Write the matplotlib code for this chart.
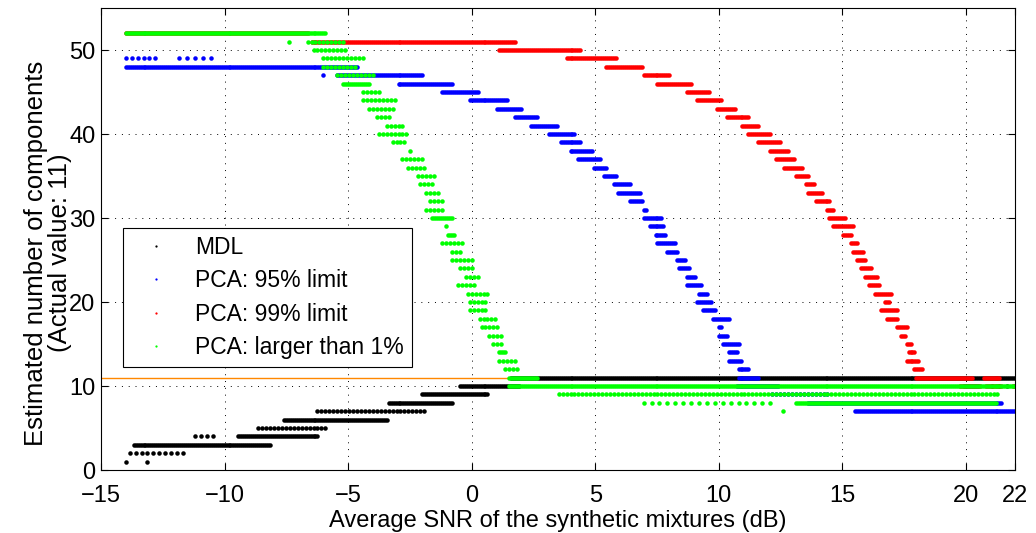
import numpy as np
import matplotlib
matplotlib.use("Agg")
from matplotlib import pyplot as plt

plt.rcParams['font.family'] = ['Liberation Sans', 'DejaVu Sans']

# SNR grid of the synthetic mixtures (dB)
snr = np.round(np.arange(-14.0, 22.001, 0.08), 3)

# runs: (estimated components, SNR from, SNR to[, keep every n-th])
mdl = [
    (1, -14.0, -14.0), (1, -13.15, -13.15),
    (2, -13.9, -11.6, 3), (3, -13.7, -8.1),
    (4, -11.25, -10.4, 3), (4, -9.5, -6.2),
    (5, -8.7, -5.9, 2), (6, -7.6, -3.4), (7, -6.3, -1.8, 2),
    (8, -3.4, -0.8), (9, -2.0, 0.65), (10, -0.5, 1.95),
    (11, 1.6, 22.0), (10, 21.0, 22.0, 4),
]
pca95 = [
    (49, -14.1, -12.6, 3), (49, -11.9, -10.5, 4), (48, -14.0, -4.6),
    (47, -6.0, -6.0), (47, -5.5, -2.0), (46, -3.0, -0.8), (45, -1.2, 0.3),
    (44, -0.1, 1.45), (43, 1.0, 2.0), (42, 1.75, 2.7), (41, 2.35, 3.5),
    (40, 3.1, 4.2), (39, 3.55, 4.4), (38, 4.0, 4.9), (37, 4.3, 5.2),
    (36, 4.9, 5.5), (35, 5.3, 5.85), (34, 5.7, 6.4), (33, 5.9, 6.8),
    (32, 6.4, 6.9), (31, 6.9, 7.1), (30, 6.9, 7.7), (29, 7.2, 7.8),
    (28, 7.4, 7.9), (27, 7.5, 8.3), (26, 7.9, 8.35), (25, 8.3, 8.65),
    (24, 8.4, 8.85), (23, 8.7, 9.1), (22, 8.7, 9.35), (21, 9.15, 9.55),
    (20, 9.05, 9.75), (19, 9.3, 9.85), (18, 9.7, 10.45), (17, 10.0, 10.1),
    (16, 9.95, 10.35), (15, 10.1, 10.8), (14, 10.35, 10.75), (13, 10.4, 10.95),
    (12, 10.8, 11.2), (11, 10.75, 11.6), (10, 10.7, 12.4), (10, 19.9, 20.5),
    (9, 12.1, 14.5, 2), (8, 13.6, 21.5), (7, 15.5, 22.0),
]
pca99 = [
    (52, -14.0, -6.6), (51, -6.5, 1.8), (50, 1.1, 4.4), (49, 3.8, 5.9),
    (48, 5.4, 6.9), (47, 6.9, 8.0), (46, 7.45, 8.9), (45, 8.65, 9.6),
    (44, 9.05, 10.1), (43, 9.9, 10.7), (42, 10.3, 11.25), (41, 10.9, 11.6),
    (40, 11.2, 12.1), (39, 11.6, 12.55), (38, 12.05, 12.85), (37, 12.3, 13.1),
    (36, 12.6, 13.4), (35, 13.1, 13.6), (34, 13.45, 13.9), (33, 13.6, 14.2),
    (32, 13.85, 14.5), (31, 14.35, 14.65), (30, 14.45, 15.15), (29, 14.6, 15.5),
    (28, 15.0, 15.4), (27, 15.3, 15.6), (26, 15.4, 15.9), (25, 15.6, 15.95),
    (24, 15.7, 16.2), (23, 15.85, 16.4), (22, 16.05, 16.55), (21, 16.25, 17.0),
    (20, 16.65, 16.9), (19, 16.5, 17.2), (18, 16.8, 17.2), (17, 17.2, 17.6),
    (16, 17.35, 17.55), (15, 17.55, 17.8), (14, 17.65, 17.95), (13, 17.55, 18.1),
    (12, 17.85, 18.3), (11, 18.0, 20.3), (11, 20.7, 21.4),
    (10, 19.7, 20.6), (10, 20.8, 21.5), (10, 21.9, 22.0),
]
pca1 = [
    (52, -14.1, -5.9), (51, -7.4, -7.4), (51, -6.7, -5.2, 2), (50, -6.4, -5.0, 2),
    (49, -6.0, -4.4, 2), (48, -6.0, -4.7, 2), (47, -5.5, -3.9, 2), (46, -5.2, -4.1),
    (45, -4.4, -3.7, 2), (44, -4.4, -3.1, 2), (43, -4.2, -3.2, 2), (42, -3.9, -3.3, 2),
    (41, -3.5, -2.7, 2), (40, -3.8, -2.6, 2), (39, -3.2, -2.6, 2), (38, -2.5, -2.5),
    (37, -2.8, -1.9, 2), (36, -2.6, -1.8, 2), (35, -2.2, -1.5, 2), (34, -2.1, -1.6, 2),
    (33, -1.9, -1.3, 2), (32, -1.7, -1.2, 2), (31, -1.9, -1.2, 2), (30, -1.6, -0.8),
    (29, -1.05, -1.05), (28, -1.0, -0.7), (27, -1.25, -0.3, 2), (26, -0.8, -0.4, 2),
    (25, -0.8, 0.0, 2), (24, -0.5, 0.0, 2), (23, -0.25, 0.3, 2), (22, -0.6, 0.2, 2),
    (21, -0.2, 0.65, 2), (20, -0.15, 0.65, 2), (19, -0.1, 0.6, 2), (18, 0.3, 1.1, 2),
    (17, 0.4, 1.1, 2), (16, 0.7, 1.2, 2), (15, 0.85, 1.2, 2), (14, 1.1, 1.4),
    (13, 1.1, 1.8, 2), (12, 1.3, 1.85, 2), (11, 1.5, 2.7),
    (10, 1.5, 22.0), (9, 3.5, 21.4, 2), (8, 6.9, 12.3, 4), (8, 13.1, 21.2),
    (7, 12.6, 12.6),
]
actual_value = 11

series = [
    ('MDL', mdl, 'k'),
    ('PCA: 95% limit', pca95, '#0000ff'),
    ('PCA: 99% limit', pca99, '#ff0000'),
    ('PCA: larger than 1%', pca1, '#00ff00'),
]


def expand(runs):
    xs, ys = [], []
    for run in runs:
        level, x0, x1 = run[:3]
        every = run[3] if len(run) > 3 else 1
        sel = snr[(snr >= x0 - 1e-6) & (snr <= x1 + 1e-6)][::every]
        if sel.size == 0:
            sel = np.array([x0])
        xs.append(sel)
        ys.append(np.full(sel.size, level))
    return np.concatenate(xs), np.concatenate(ys)


fig = plt.figure(figsize=(10.36, 5.33), dpi=100)
ax = fig.add_axes([0.0975, 0.118, 0.8825, 0.867])

ax.axhline(actual_value, color='#ff8800', lw=1.0, zorder=1)
for name, runs, col in series:
    x, y = expand(runs)
    ax.plot(x, y, linestyle='none', marker='.', ms=6.5, mew=0, color=col,
            label=name, zorder=2)

ax.set_xlim(-15, 22)
ax.set_ylim(0, 55)
ax.set_xticks([-15, -10, -5, 0, 5, 10, 15, 20, 22])
ax.set_yticks([0, 10, 20, 30, 40, 50])
ax.xaxis.set_major_formatter(matplotlib.ticker.FuncFormatter(
    lambda v, p: f"{v:g}".replace('-', '\u2212')))
ax.tick_params(direction='in', length=5, width=0.8, labelsize=17,
               top=True, right=True)
ax.tick_params(axis='x', pad=11)
ax.tick_params(axis='y', pad=4)
ax.grid(True, linestyle=(0, (1, 6)), color='k', lw=0.7)
for s in ax.spines.values():
    s.set_linewidth(0.8)

ax.set_xlabel('Average SNR of the synthetic mixtures (dB)', fontsize=17, labelpad=2)
ax.set_ylabel('Estimated number of components\n(Actual value: 11)', fontsize=18.5,
              labelpad=1, linespacing=1.0)
ax.yaxis.set_label_coords(-0.032, 0.47)

leg = ax.legend(loc='upper left', bbox_to_anchor=(0.024, 0.524), borderaxespad=0,
                fontsize=16.5, fancybox=False, framealpha=1, edgecolor='k',
                markerscale=0.5, handlelength=2.2, handletextpad=0.6,
                labelspacing=0.45, borderpad=0.35)
leg.get_frame().set_linewidth(0.8)

fig.savefig('out.png', dpi=100)
